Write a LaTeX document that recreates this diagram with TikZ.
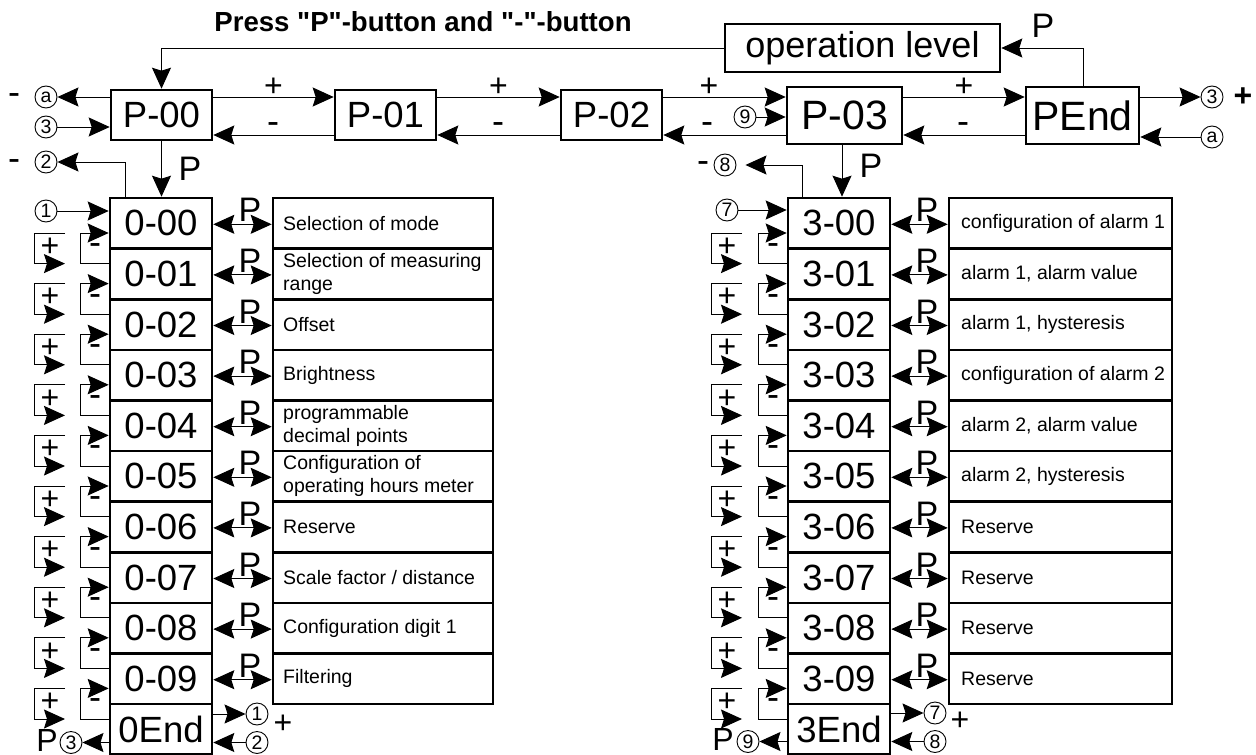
\documentclass[tikz,border=0pt]{standalone}
\usepackage{fontspec}
\setmainfont{Liberation Sans}[Ligatures=TeXOff]
\usetikzlibrary{arrows.meta,calc}
\begin{document}
\begin{tikzpicture}[x=1pt,y=-1pt,
  box/.style={draw,line width=2.6pt,inner sep=0pt,anchor=center},
  conn/.style={line width=1pt},
  arr/.style={conn,-{Stealth[length=21pt,width=19pt,inset=3pt]}},
  darr/.style={conn,{Stealth[length=21pt,width=19pt,inset=3pt]}-{Stealth[length=21pt,width=19pt,inset=3pt]}},
  circ/.style={draw,circle,line width=0.9pt,minimum size=22pt,inner sep=0pt,font=\fontsize{19.5}{19.5}\selectfont},
  colbox/.style={box,minimum width=102pt,minimum height=50.6pt,font=\fontsize{36.5}{36.5}\selectfont},
  sign/.style={font=\fontsize{32}{32}\selectfont,inner sep=0pt},
  msign/.style={font=\fontsize{36}{36}\selectfont,inner sep=0pt},
  plab/.style={font=\fontsize{34}{34}\selectfont,inner sep=0pt},
  desc/.style={font=\fontsize{19.5}{23}\selectfont,align=left,inner sep=0pt,anchor=west},
]
\fill[white] (0,0) rectangle (1256,755);
\useasboundingbox (0,0) rectangle (1256,755);

% title
\node[font=\bfseries\fontsize{27.6}{27.6}\selectfont] (title) at (423,22) {Press "P"-button and "-"-button};

% top row
\node[box,minimum width=101pt,minimum height=50pt,font=\fontsize{36.5}{36.5}\selectfont] (p0) at (161.5,115) {P-00};
\node[box,minimum width=101pt,minimum height=50pt,font=\fontsize{36.5}{36.5}\selectfont] (p1) at (385.5,115) {P-01};
\node[box,minimum width=101pt,minimum height=50pt,font=\fontsize{36.5}{36.5}\selectfont] (p2) at (611.5,115) {P-02};
\node[box,minimum width=115pt,minimum height=57pt,font=\fontsize{41}{41}\selectfont] (p3) at (844.5,115.5) {P-03};
\node[box,minimum width=113pt,minimum height=57pt,font=\fontsize{41}{41}\selectfont] (pe) at (1082.5,115.5) {PEnd};
\node[box,minimum width=275pt,minimum height=48pt,font=\fontsize{36}{36}\selectfont] (op) at (862.5,48) {operation level};

\foreach \a/\b in {p0/p1,p1/p2,p2/p3,p3/pe} {
  \draw[arr] (\a.east |- 0,97) -- (\b.west |- 0,97);
  \draw[arr] (\b.west |- 0,135) -- (\a.east |- 0,135);
}
\foreach \x/\xm in {273.5/273,498.5/498,709/707,964/963} {
  \node[sign] at (\x,87) {+};
  \node[msign] at (\xm,128) {-};
}

% operation level loop
\draw[arr] (op.west) -- (p0.north |- op.west) -- (p0.north);
\draw[arr] (pe.north -| 1083,0) -- (1083,48) -- (op.east);
\node[plab] (pop) at (1043,26) {P};

% left of P-00
\node[circ] (ca) at (46,97) {a};
\node[msign] at (14,99) {-};
\draw[arr] (p0.west |- 0,97) -- (ca);
\node[circ] (c3a) at (46,127) {3};
\draw[arr] (c3a) -- (p0.west |- 0,127);

% right of PEnd
\node[circ] (c3b) at (1212,97) {3};
\draw[arr] (pe.east |- 0,97) -- (c3b);
\node[font=\bfseries\fontsize{32}{32}\selectfont,inner sep=0pt] at (1243,97) {+};
\node[circ] (cab) at (1212,137) {a};
\draw[arr] (cab) -- (pe.east |- 0,137);

% 9 into P-03
\node[circ] (c9a) at (745,117) {9};
\draw[arr] (c9a) -- (p3.west |- c9a);

% columns
\foreach \i in {0,...,9} {
  \pgfmathsetmacro\yc{198+50.6*\i+25.3}
  \node[colbox] (l\i) at (161,\yc) {0-0\i};
  \node[colbox] (r\i) at (839,\yc) {3-0\i};
}
\node[colbox] (l10) at (161,198+50.6*10+25.3) {0End};
\node[colbox] (r10) at (839,198+50.6*10+25.3) {3End};

% descriptions
\foreach \i/\t in {0/Selection of mode,1/Selection of measuring\\range,2/Offset,3/Brightness,4/programmable\\decimal points,5/Configuration of\\operating hours meter,6/Reserve,7/{Scale factor / distance},8/Configuration digit 1,9/Filtering} {
  \pgfmathsetmacro\yc{198+50.6*\i+25.3}
  \node[box,minimum width=220pt,minimum height=50.6pt] (ld\i) at (383,\yc) {};
  \node[desc] at (283,\yc) {\t};
  \draw[darr] (l\i.east |- 0,\yc+1) -- (ld\i.west |- 0,\yc+1);
  \node[plab,anchor=base] at (250,\yc-1.5) {P};
}
\foreach \i/\t in {0/configuration of alarm 1,1/{alarm 1, alarm value},2/{alarm 1, hysteresis},3/configuration of alarm 2,4/{alarm 2, alarm value},5/{alarm 2, hysteresis},6/Reserve,7/Reserve,8/Reserve,9/Reserve} {
  \pgfmathsetmacro\yc{198+50.6*\i+25.3}
  \node[box,minimum width=223pt,minimum height=50.6pt] (rd\i) at (1060.5,\yc) {};
  \node[desc] at (961,\yc) {\t};
  \draw[darr] (r\i.east |- 0,\yc+1) -- (rd\i.west |- 0,\yc+1);
  \node[plab,anchor=base] at (927,\yc-1.5) {P};
}

% + / - brackets
\foreach \i in {0,...,9} {
  \pgfmathsetmacro\ya{198+50.6*\i+35}
  \pgfmathsetmacro\yb{198+50.6*(\i+1)+15}
  \pgfmathtruncatemacro\j{\i+1}
  % left column
  \coordinate (lps\i) at (65,\ya);
  \coordinate (lpe\i) at (65,\yb);
  \draw[arr] (l\j.west |- 0,\yb) -- (80,\yb) -- (80,\ya) -- (l\i.west |- 0,\ya);
  \draw[arr] (lps\i) -- (34,\ya) -- (34,\yb) -- (lpe\i);
  \node[sign] at (50,\ya+14) {+};
  \node[msign] at (95,\ya+16) {-};
  % right column
  \coordinate (rps\i) at (742,\ya);
  \coordinate (rpe\i) at (742,\yb);
  \draw[arr] (r\j.west |- 0,\yb) -- (758,\yb) -- (758,\ya) -- (r\i.west |- 0,\ya);
  \draw[arr] (rps\i) -- (711,\ya) -- (711,\yb) -- (rpe\i);
  \node[sign] at (727,\ya+14) {+};
  \node[msign] at (773,\ya+16) {-};
}

% left column top connectors
\draw[arr] (p0.south) -- (p0.south |- l0.north);
\node[plab] (pl) at (190,169) {P};
\node[circ] (c2a) at (46,162) {2};
\node[msign] at (14,165) {-};
\draw[arr] (l0.north -| 125,0) -- (125,162) -- (c2a);
\node[circ] (c1a) at (46,211) {1};
\draw[arr] (c1a) -- (l0.west |- c1a);

% right column top connectors
\draw[arr] (p3.south -| 842,0) -- (r0.north -| 842,0);
\node[plab] (pr) at (871,166) {P};
\node[circ] (c8a) at (725,165) {8};
\node[msign] at (703,167) {-};
\draw[arr,shorten >=9pt] (r0.north -| 802,0) -- (802,165) -- (c8a);
\node[circ] (c7a) at (727,210) {7};
\draw[arr] (c7a) -- (r0.west |- c7a);

% left bottom
\node[circ] (c1b) at (257,714) {1};
\draw[arr] (l10.east |- c1b) -- (c1b);
\node[sign] at (283,724) {+};
\node[circ] (c2b) at (257,742.5) {2};
\draw[arr] (c2b) -- (l10.east |- c2b);
\node[circ] (c3c) at (71,742.5) {3};
\draw[arr] (l10.west |- c3c) -- (c3c);
\node[font=\fontsize{32}{32}\selectfont,inner sep=0pt] at (47,740) {P};

% right bottom
\node[circ] (c7b) at (935,713) {7};
\draw[arr] (r10.east |- c7b) -- (c7b);
\node[sign] at (960,721) {+};
\node[circ] (c8b) at (935,741.5) {8};
\draw[arr] (c8b) -- (r10.east |- c8b);
\node[circ] (c9b) at (748,741.5) {9};
\draw[arr] (r10.west |- c9b) -- (c9b);
\node[font=\fontsize{32}{32}\selectfont,inner sep=0pt] at (723,739) {P};
\end{tikzpicture}
\end{document}
